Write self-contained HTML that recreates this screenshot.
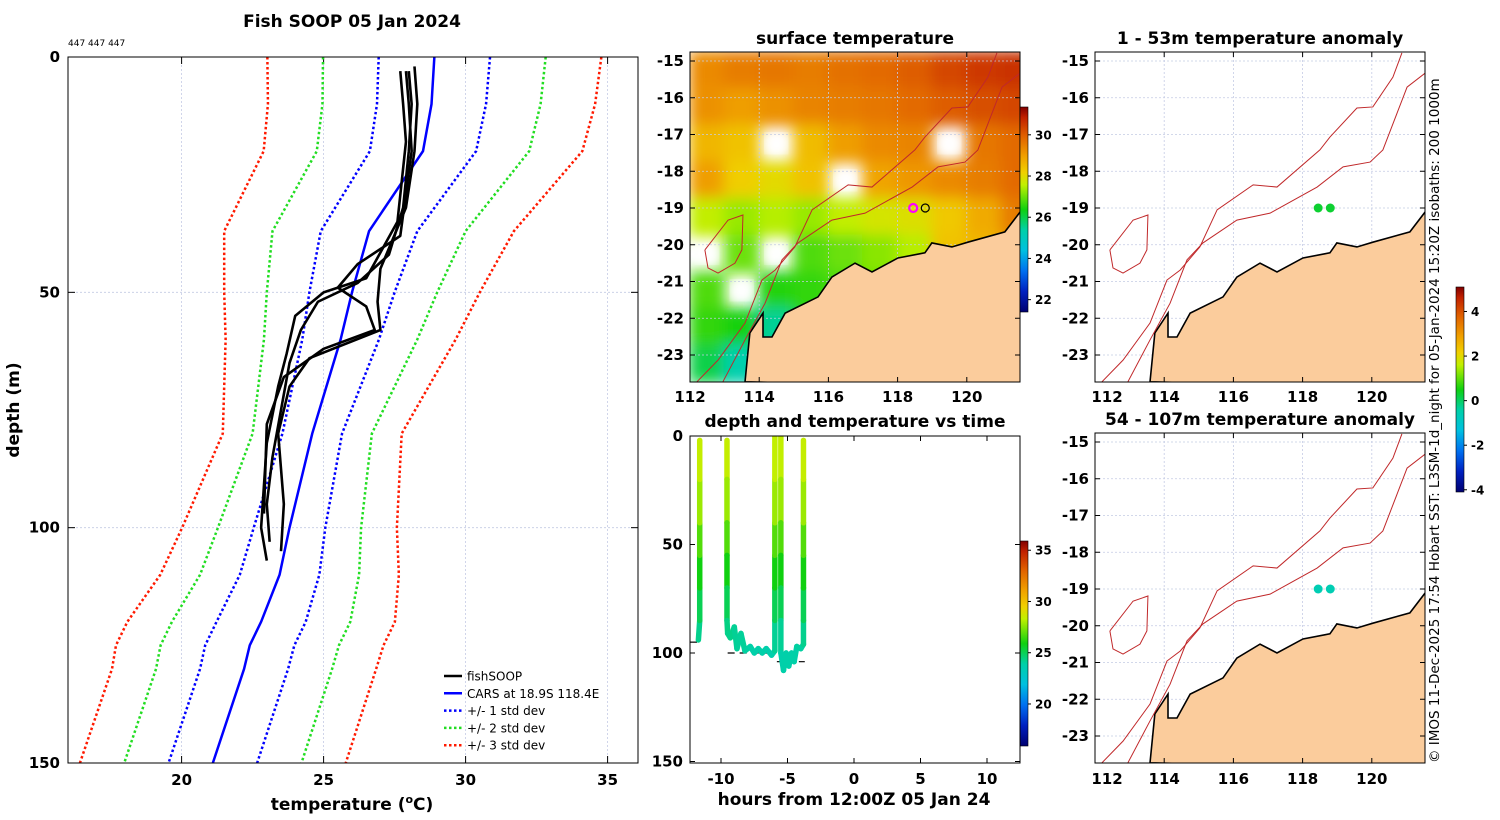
<!DOCTYPE html>
<html><head><meta charset="utf-8"><style>
html,body{margin:0;padding:0;background:#fff;}
svg{display:block;font-family:"DejaVu Sans","Liberation Sans",sans-serif;}
.t{font-weight:bold;font-size:17px;}
.tk{font-weight:bold;font-size:15px;}
</style></head><body>
<svg id="fig" width="1500" height="820" viewBox="0 0 1500 820" xmlns="http://www.w3.org/2000/svg">
<defs>
<filter id="blur" x="-5%" y="-5%" width="110%" height="110%"><feGaussianBlur stdDeviation="7"/></filter>
<clipPath id="clipMid"><rect x="690" y="52" width="330" height="330"/></clipPath>
<clipPath id="clipR1"><rect x="1095" y="52" width="330" height="330"/></clipPath>
<clipPath id="clipR2"><rect x="1095" y="433" width="330" height="330"/></clipPath>
<clipPath id="clipL"><rect x="68" y="57" width="570" height="706"/></clipPath>
<clipPath id="clipT"><rect x="690" y="436" width="330" height="327"/></clipPath>
</defs>
<g id="root"></g>
</svg>
<script>
// ---------- DATA ----------
const profA_t=[28.0,28.1,28.0,27.8,27.3,26.2,24.8,24.2,23.8,23.5,23.2,23.0,23.1];
const profA_d=[3,10,20,32,42,48,52,58,65,75,85,95,103];
const profB_t=[28.2,28.3,28.2,27.9,27.0,26.9,27.0,24.5,23.8,23.4,23.6,23.5];
const profB_d=[2,10,20,32,45,52,58,64,70,80,95,105];
const profC_t=[27.7,27.8,27.9,27.6,26.5,25.0,24.0,23.7,23.4,23.0,22.8,23.0];
const profC_d=[3,10,18,35,47,50,55,63,70,82,100,107];
const profD_t=[27.9,28.0,28.1,27.7,26.2,25.5,26.5,26.8,25.0,23.6,23.0,22.9];
const profD_d=[3,10,20,38,44,49,53,58,62,68,78,97];
const carsDepth=[0,10,20,37,50,60,80,100,110,120,125,130,150];
const carsMean=[28.9,28.8,28.5,26.6,26.0,25.6,24.6,23.8,23.45,22.8,22.4,22.2,21.1];
const carsStd=[1.96,1.92,1.87,1.7,1.5,1.35,1.05,1.26,1.4,1.57,1.57,1.55,1.56];
const tempTicks=[20,25,30,35];
const depthTicks=[0,50,100,150];
const sstGrid=[
[29.3,29.5,29.6,29.5,29.7,29.8,30.0,30.3,30.5,30.6],
[29.2,29.0,29.2,29.4,29.5,29.6,29.8,30.0,30.2,30.3],
[28.6,28.4,null,28.5,29.0,29.3,29.4,null,29.6,29.8],
[29.0,28.2,28.0,28.4,null,28.9,29.1,29.3,29.5,29.8],
[27.6,27.3,27.5,27.3,27.6,27.8,27.9,28.3,28.8,29.5],
[null,27.0,null,26.8,27.0,27.2,27.5,28.4,28.6,29.0],
[26.8,null,26.5,26.6,26.8,27.0,27.5,28.0,28.0,28.0],
[26.6,26.4,25.5,26.5,26.5,27,27,27,27,27],
[26.0,25.3,24.8,26,26,26,26,26,26,26]];
const coastLon=[121.54,121.10,120.03,119.57,118.99,118.79,118.01,117.26,116.77,116.10,115.70,114.75,114.37,114.11,114.11,113.73,113.59];
const coastLat=[-19.11,-19.65,-19.93,-20.06,-19.95,-20.22,-20.36,-20.74,-20.50,-20.88,-21.42,-21.86,-22.51,-22.51,-21.86,-22.40,-23.73];
const iso1Lon=[120.87,120.61,120.03,119.57,118.79,118.50,117.26,116.57,115.53,115.03,114.46,114.08,113.59,112.81,112.20];
const iso1Lat=[-14.78,-15.44,-16.25,-16.28,-17.07,-17.42,-18.43,-18.37,-19.05,-20.06,-20.69,-20.96,-22.13,-23.14,-23.73];
const iso2Lon=[121.54,121.02,120.32,119.95,119.17,118.42,117.06,116.10,115.12,114.66,114.17,113.59,112.95];
const iso2Lat=[-15.33,-15.71,-17.42,-17.75,-17.88,-18.43,-19.14,-19.33,-19.95,-20.41,-21.59,-22.59,-23.73];
const islLon=[112.43,113.10,113.53,113.50,113.30,112.81,112.52,112.43];
const islLat=[-20.14,-19.33,-19.19,-20.14,-20.50,-20.77,-20.63,-20.14];
const lonTicks=[112,114,116,118,120];
const latTicks=[-15,-16,-17,-18,-19,-20,-21,-22,-23];
const obsLon=[118.45,118.8];
const obsLat=[-19.0,-19.0];
const anomShallow=[0.3,0.3];
const anomDeep=[-0.6,-0.6];
const trHours=[
 -12.3,-11.7,-11.6,-11.6,-11.6,-11.6,-11.6,-11.6,
 -9.55,-9.55,-9.55,-9.55,-9.55,-9.55,-9.5,-9.3,-9.0,-8.8,-8.5,-8.2,-7.8,-7.5,-7.2,-6.9,-6.6,-6.2,-5.95,
 -5.95,-5.95,-5.95,-5.95,-5.95,-5.95,
 -5.5,-5.5,-5.5,-5.5,-5.5,-5.5,-5.5,-5.3,-5.1,-4.9,-4.7,-4.5,-4.3,-4.0,-3.8,
 -3.8,-3.8,-3.8,-3.8,-3.8,-3.8];
const trDepth=[
 95,94,85,70,55,40,20,2,
 2,20,40,55,70,85,91,93,88,98,91,99,97,100,98,100,98,101,99,
 85,70,55,40,20,0,
 0,20,40,55,70,85,100,108,100,106,100,104,97,98,96,
 85,70,55,40,20,2];
const trTemp=[
 24,24,24.5,25.5,26.3,27.3,28.3,28.5,
 28.5,28.3,27.3,26.3,25.5,24.5,24.3,24.3,24.3,24,24.2,24,24,23.8,23.9,23.8,23.9,23.7,23.8,
 24.5,25.5,26.3,27.3,28.3,28.4,
 28.4,28.3,27.3,26.3,25.5,24.5,23.8,23.8,23.9,23.8,23.9,23.8,24,24,24,
 24.5,25.5,26.3,27.3,28.3,28.5];
const hourTicks=[-10,-5,0,5,10];
const tdDepthTicks=[0,50,100,150];
const sstTicks=[22,24,26,28,30];
const tempCbTicks=[20,25,30,35];
const anomTicks=[4,2,0,-2,-4];

// ---------- helpers ----------
const NS='http://www.w3.org/2000/svg';
const root=document.getElementById('root');
function el(tag,attrs,parent,txt){const e=document.createElementNS(NS,tag);for(const k in attrs)e.setAttribute(k,attrs[k]);if(txt!==undefined)e.textContent=txt;(parent||root).appendChild(e);return e;}
const cmStops=[[0,[0,0,112]],[0.1,[0,32,192]],[0.2,[0,112,240]],[0.3,[0,192,224]],[0.4,[0,208,168]],[0.5,[16,208,16]],[0.62,[192,240,0]],[0.68,[240,208,0]],[0.76,[240,160,0]],[0.86,[224,96,0]],[0.95,[192,32,0]],[1,[128,0,0]]];
function cmap(f){f=Math.max(0,Math.min(1,f));for(let i=1;i<cmStops.length;i++){if(f<=cmStops[i][0]){const a=cmStops[i-1],b=cmStops[i];const u=(f-a[0])/(b[0]-a[0]);const c=a[1].map((v,k)=>Math.round(v+(b[1][k]-v)*u));return 'rgb('+c.join(',')+')';}}return 'rgb(128,0,0)';}
function cbar(x,y,w,h,id){const g=el('linearGradient',{id:id,x1:0,y1:1,x2:0,y2:0},document.querySelector('defs'));cmStops.forEach(s=>el('stop',{offset:s[0],'stop-color':cmap(s[0])},g));return el('rect',{x:x,y:y,width:w,height:h,fill:'url(#'+id+')',stroke:'#000','stroke-width':0.6});}

// ---------- left panel ----------
const X=t=>68+(t-16)*28.4, Y=d=>57+d*4.7067;
const L=el('g',{});


el('text',{x:352,y:27,'text-anchor':'middle',class:'t'},L,'Fish SOOP 05 Jan 2024');
el('text',{x:68,y:46,'font-size':9},L,'447 447 447');
tempTicks.forEach(t=>{const ln=el('line',{x1:X(t),x2:X(t),y1:57,y2:763,stroke:'#c4cbe4','stroke-dasharray':'2,2','stroke-width':0.8},L);
 el('line',{x1:X(t),x2:X(t),y1:763,y2:756,stroke:'#000'},L);el('line',{x1:X(t),x2:X(t),y1:57,y2:64,stroke:'#000'},L);
 const tx=el('text',{x:X(t),y:785,'text-anchor':'middle',class:'tk'},L,String(t));});
depthTicks.forEach(d=>{if(d>0&&d<150){const ln=el('line',{x1:68,x2:638,y1:Y(d),y2:Y(d),stroke:'#c4cbe4','stroke-dasharray':'2,2','stroke-width':0.8},L);}
 el('line',{x1:68,x2:75,y1:Y(d),y2:Y(d),stroke:'#000'},L);el('line',{x1:631,x2:638,y1:Y(d),y2:Y(d),stroke:'#000'},L);
 const tx=el('text',{x:60,y:Y(d)+5,'text-anchor':'end',class:'tk'},L,String(d));});
const PL=el('g',{'clip-path':'url(#clipL)'},L);
const stdCol={1:'#0000ff',2:'#22dd22',3:'#ff1a00'};
[3,2,1].forEach(k=>{[-1,1].forEach(s=>{const pts=carsDepth.map((d,i)=>X(carsMean[i]+s*k*carsStd[i])+','+Y(d)).join(' ');
 const p=el('polyline',{points:pts,fill:'none',stroke:stdCol[k],'stroke-width':2.5,'stroke-dasharray':'2.5,2.5'},PL);
 });});
const cp=el('polyline',{points:carsDepth.map((d,i)=>X(carsMean[i])+','+Y(d)).join(' '),fill:'none',stroke:'#0000ff','stroke-width':2.5},PL);

[[profA_t,profA_d],[profB_t,profB_d],[profC_t,profC_d],[profD_t,profD_d]].forEach((p,i)=>{
 const pl=el('polyline',{points:p[0].map((t,j)=>X(t)+','+Y(p[1][j])).join(' '),fill:'none',stroke:'#000','stroke-width':2.6,'stroke-linejoin':'round'},PL);
 });
el('rect',{x:68,y:57,width:570,height:706,fill:'none',stroke:'#000','stroke-width':1},L);
const xl=el('text',{x:352,y:810,'text-anchor':'middle',class:'t'},L);
xl.innerHTML='temperature (<tspan font-size="11" dy="-7">o</tspan><tspan dy="7">C)</tspan>';
const yl=el('text',{x:0,y:0,'text-anchor':'middle',class:'t',transform:'translate(19,410) rotate(-90)'},L,'depth (m)');
const legEntries=[['fishSOOP','#000',''],['CARS at 18.9S 118.4E','#0000ff',''],['+/- 1 std dev','#0000ff','2.5,2.5'],['+/- 2 std dev','#22dd22','2.5,2.5'],['+/- 3 std dev','#ff1a00','2.5,2.5']];
const LG=el('g',{},L);
legEntries.forEach((e,i)=>{const y=676+i*17.3;const g=el('g',{},LG);
 el('line',{x1:444,x2:462,y1:y,y2:y,stroke:e[1],'stroke-width':2.5,'stroke-dasharray':e[2]},g);
 el('text',{x:467,y:y+4.5,'font-size':12},g,e[0]);});

// ---------- maps ----------
function drawMap(ox,oy,clip,name,opts){
 const lx=lon=>ox+(lon-112)*34.6, ly=lat=>oy+(-15-lat)*36.75;
 const g=el('g',{});
 const top=oy-9,left=ox,w=330,h=330;
 const C=el('g',{'clip-path':'url(#'+clip+')'},g);
 el('rect',{x:left,y:top,width:w,height:h,fill:'#fff'},C);
 if(opts.sst){const B=el('g',{filter:'url(#blur)'},C);
  sstGrid.forEach((row,i)=>row.forEach((v,j)=>{if(v!==null){el('rect',{x:lx(112+j)-1,y:ly(-14.75-i)-1,width:36.6,height:38.8,fill:cmap((v-21.4)/(31.35-21.4))},B);}}));
  sstGrid.forEach((row,i)=>row.forEach((v,j)=>{if(v===null){const r=el('rect',{x:lx(112+j)+6,y:ly(-14.75-i)+8,width:22,height:20,rx:8,fill:'#fff',filter:'url(#blur)'},C);}}));
 }
 lonTicks.forEach(l=>{el('line',{x1:lx(l),x2:lx(l),y1:top,y2:top+h,stroke:'#c4cbe4','stroke-dasharray':'2,2','stroke-width':0.8},C);});
 latTicks.forEach(l=>{el('line',{x1:left,x2:left+w,y1:ly(l),y2:ly(l),stroke:'#c4cbe4','stroke-dasharray':'2,2','stroke-width':0.8},C);});
 const land=coastLon.map((l,i)=>lx(l)+','+ly(coastLat[i])).join(' ')+' '+lx(121.7)+','+ly(-23.9)+' '+lx(121.7)+','+ly(-19.11);
 const lp=el('polygon',{points:land,fill:'#fbcc9c',stroke:'#000','stroke-width':1.6},C);
 [[iso1Lon,iso1Lat],[iso2Lon,iso2Lat],[islLon,islLat]].forEach((s,k)=>{const p=el('polyline',{points:s[0].map((l,i)=>lx(l)+','+ly(s[1][i])).join(' '),fill:'none',stroke:'#c0282a','stroke-width':1},C);});
 if(opts.sst){el('circle',{cx:lx(obsLon[0]),cy:ly(obsLat[0]),r:4,fill:'none',stroke:'#ff00ff','stroke-width':2.2},C);
  el('circle',{cx:lx(obsLon[1]),cy:ly(obsLat[1]),r:4,fill:'none',stroke:'#000','stroke-width':1.2},C);}
 if(opts.anom){opts.anom.forEach((a,i)=>{const c=el('circle',{cx:lx(obsLon[i]),cy:ly(obsLat[i]),r:4.5,fill:cmap((a+4.1)/9.2)},C);});}
 el('rect',{x:left,y:top,width:w,height:h,fill:'none',stroke:'#000','stroke-width':1},g);
 latTicks.forEach(l=>{el('line',{x1:left,x2:left+5,y1:ly(l),y2:ly(l),stroke:'#000'},g);el('line',{x1:left+w,x2:left+w-5,y1:ly(l),y2:ly(l),stroke:'#000'},g);
  const t=el('text',{x:left-6,y:ly(l)+5,'text-anchor':'end',class:'tk'},g,String(l));});
 lonTicks.forEach(l=>{el('line',{x1:lx(l),x2:lx(l),y1:top+h,y2:top+h-5,stroke:'#000'},g);el('line',{x1:lx(l),x2:lx(l),y1:top,y2:top+5,stroke:'#000'},g);
  const t=el('text',{x:(l===112&&opts.shift)?lx(l)+12:lx(l),y:top+h+(opts.lblOff||20),'text-anchor':'middle',class:'tk'},g,String(l));});
 const tt=el('text',{x:left+w/2,y:top-8,'text-anchor':'middle',class:'t'},g,opts.title);
}
drawMap(690,61,'clipMid','sst-map',{sst:true,title:'surface temperature'});
drawMap(1095,61,'clipR1','anomaly-map-shallow',{anom:anomShallow,title:'1 - 53m temperature anomaly',shift:true});
drawMap(1095,442,'clipR2','anomaly-map-deep',{anom:anomDeep,title:'54 - 107m temperature anomaly',shift:true,lblOff:21});

function drawCb(x,y,h,lo,hi,ticks,id,name){const g=el('g',{});
 const r=cbar(x,y,8,h,id);g.appendChild(r);
 ticks.forEach(t=>{const yy=y+h-(t-lo)/(hi-lo)*h;el('line',{x1:x+8,x2:x+11,y1:yy,y2:yy,stroke:'#000'},g);el('text',{x:x+15,y:yy+4.5,'font-size':12,'font-weight':'bold'},g,String(t));});}
drawCb(1020,107,205,21.4,31.35,sstTicks,'g1','sst-colorbar');
drawCb(1020,541,205,15.9,35.9,tempCbTicks,'g2','temperature-colorbar');
drawCb(1456,287,205,-4.1,5.1,anomTicks,'g3','anomaly-colorbar');

// ---------- time-depth panel ----------
const Xh=h=>854+h*13.3, Yd=d=>436+d*2.17;
const T=el('g',{});
el('text',{x:855,y:427,'text-anchor':'middle',class:'t'},T,'depth and temperature vs time');
const TC=el('g',{'clip-path':'url(#clipT)'},T);
el('line',{x1:Xh(-12.4),x2:Xh(-11.8),y1:Yd(95),y2:Yd(95),stroke:'#000','stroke-width':1.2},TC);
el('line',{x1:Xh(-9.5),x2:Xh(-6.3),y1:Yd(100),y2:Yd(100),stroke:'#000','stroke-width':1.2,'stroke-dasharray':'7,5'},TC);
el('line',{x1:Xh(-5.8),x2:Xh(-3.7),y1:Yd(104),y2:Yd(104),stroke:'#000','stroke-width':1.2,'stroke-dasharray':'9,2'},TC);
for(let i=1;i<trHours.length;i++){
 if(Math.abs(trHours[i]-trHours[i-1])>0.4)continue;
 const s=el('line',{x1:Xh(trHours[i-1]),y1:Yd(trDepth[i-1]),x2:Xh(trHours[i]),y2:Yd(trDepth[i]),stroke:cmap(((trTemp[i-1]+trTemp[i])/2-15.9)/20),'stroke-width':5.5,'stroke-linecap':'round'},TC);
 
 }
el('rect',{x:690,y:436,width:330,height:327,fill:'none',stroke:'#000'},T);
hourTicks.forEach(h=>{el('line',{x1:Xh(h),x2:Xh(h),y1:763,y2:758,stroke:'#000'},T);el('line',{x1:Xh(h),x2:Xh(h),y1:436,y2:441,stroke:'#000'},T);
 const t=el('text',{x:Xh(h),y:784,'text-anchor':'middle',class:'tk'},T,String(h));});
tdDepthTicks.forEach(d=>{el('line',{x1:690,x2:695,y1:Yd(d),y2:Yd(d),stroke:'#000'},T);el('line',{x1:1015,x2:1020,y1:Yd(d),y2:Yd(d),stroke:'#000'},T);
 const t=el('text',{x:683,y:Yd(d)+5,'text-anchor':'end',class:'tk'},T,String(d));});
el('text',{x:854,y:805,'text-anchor':'middle',class:'t'},T,'hours from 12:00Z 05 Jan 24');

const cr=el('text',{x:0,y:0,'font-size':13.5,transform:'translate(1439,763) rotate(-90)'},root,'© IMOS 11-Dec-2025 17:54 Hobart SST: L3SM-1d_night for 05-Jan-2024 15:20Z isobaths: 200  1000m');


</script>
</body></html>
